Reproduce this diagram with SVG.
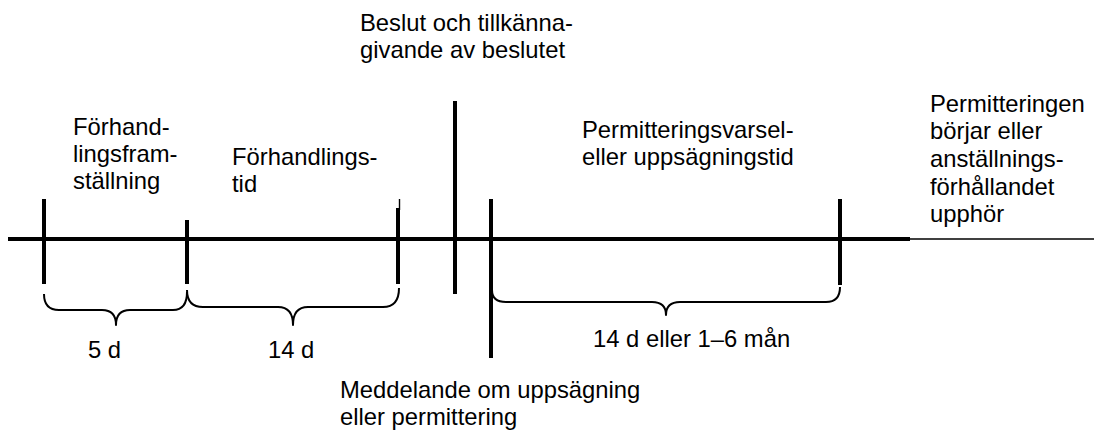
<svg xmlns="http://www.w3.org/2000/svg" width="1094" height="432" viewBox="0 0 1094 432">
  <style>
    text { font-family: "Liberation Sans", Arial, sans-serif; font-size: 23.8px; fill: #000; }
    .axis { stroke: #000; stroke-width: 4; fill: none; }
    .axis-thin { stroke: #000; stroke-width: 1.4; fill: none; }
    .tick { stroke: #000; stroke-width: 4; fill: none; }
    .brace { stroke: #000; stroke-width: 2; fill: none; stroke-linejoin: round; }
  </style>
  <rect width="1094" height="432" fill="#fff"/>

  <!-- timeline axis and span braces -->
  <g id="connectors">
    <line class="axis" x1="8" y1="239" x2="910" y2="239"/>
    <line class="axis-thin" x1="910" y1="239" x2="1094" y2="239"/>
    <!-- 5 d -->
    <path class="brace" d="M44,294 Q44,310 59,310 L102,310 Q116,310 116,325 Q116,310 130,310 L173,310 Q187,310 187,292"/>
    <!-- 14 d -->
    <path class="brace" d="M187,290 Q187,307 203,307 L278,307 Q293,307 293,325 Q293,307 308,307 L383,307 Q399,307 399,288"/>
    <!-- 14 d eller 1–6 mån -->
    <path class="brace" d="M492,290 Q492,302 506,302 L652,302 Q666,302 666,315 Q666,302 680,302 L826,302 Q840,302 840,287"/>
  </g>

  <g id="forhandlingsframstallning">
    <line class="tick" x1="44" y1="199" x2="44" y2="284"/>
    <text><tspan x="73" y="135">Förhand-</tspan><tspan x="73" y="162">lingsfram-</tspan><tspan x="73" y="189">ställning</tspan></text>
  </g>

  <g id="forhandlingstid">
    <line class="tick" x1="187" y1="220" x2="187" y2="284"/>
    <text><tspan x="232" y="165">Förhandlings-</tspan><tspan x="232" y="192">tid</tspan></text>
  </g>

  <g id="forhandling-slut">
    <line class="axis-thin" x1="399.5" y1="199" x2="399.5" y2="210"/>
    <line class="tick" x1="398" y1="208" x2="398" y2="284"/>
  </g>

  <g id="beslut">
    <line class="tick" x1="455" y1="101" x2="455" y2="294"/>
    <text><tspan x="360" y="31">Beslut och tillkänna-</tspan><tspan x="360" y="58">givande av beslutet</tspan></text>
  </g>

  <g id="meddelande">
    <line class="tick" x1="491" y1="199" x2="491" y2="358"/>
    <text><tspan x="340" y="398">Meddelande om uppsägning</tspan><tspan x="340" y="425">eller permittering</tspan></text>
  </g>

  <g id="varseltid">
    <text><tspan x="582" y="138">Permitteringsvarsel-</tspan><tspan x="582" y="165">eller uppsägningstid</tspan></text>
  </g>

  <g id="permittering-borjar">
    <line class="tick" x1="840" y1="199" x2="840" y2="285"/>
    <text><tspan x="930" y="112">Permitteringen</tspan><tspan x="930" y="139">börjar eller</tspan><tspan x="930" y="167">anställnings-</tspan><tspan x="930" y="195">förhållandet</tspan><tspan x="930" y="222">upphör</tspan></text>
  </g>

  <g id="period-labels">
    <text x="88" y="358">5 d</text>
    <text x="268" y="358">14 d</text>
    <text x="593" y="347">14 d eller 1–6 mån</text>
  </g>
</svg>
